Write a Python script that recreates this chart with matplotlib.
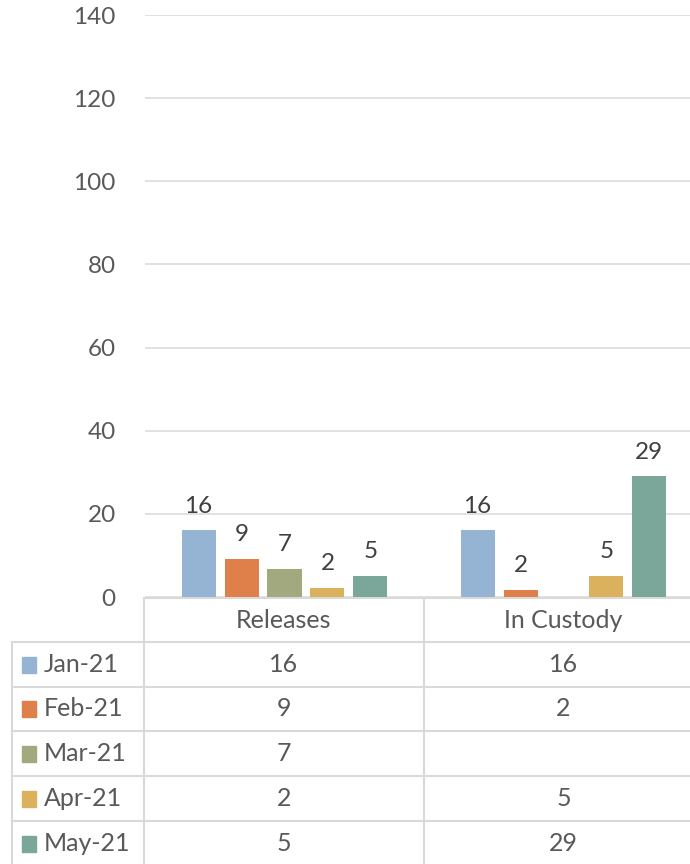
import numpy as np
import matplotlib.pyplot as plt

plt.rcParams['font.family'] = ['Lato', 'DejaVu Sans']

# data
categories = ['Releases', 'In Custody']
months = ['Jan-21', 'Feb-21', 'Mar-21', 'Apr-21', 'May-21']
releases = [16, 9.2, 6.7, 2.1, 5]
in_custody = [16, 1.7, np.nan, 5, 29]
colors = ['#95B3D3', '#DF7F49', '#A3A97F', '#DCB15D', '#7BA69A']
yticks = [0, 20, 40, 60, 80, 100, 120, 140]

W, H = 690, 864
fig = plt.figure(figsize=(W / 100, H / 100), dpi=100)

# plot area (right side is cropped by the figure edge)
left, right, top, bottom = 145, 703, 15, 597
ax = fig.add_axes([left / W, (H - bottom) / H, (right - left) / W, (bottom - top) / H])

x = np.arange(len(categories))
step, width = 0.154, 0.122
for i, m in enumerate(months):
    vals = np.array([releases[i], in_custody[i]], dtype=float)
    pos = x + (i - 2) * step
    ax.bar(pos, np.nan_to_num(vals), width, color=colors[i], zorder=3)
    for p, v in zip(pos, vals):
        if not np.isnan(v):
            ax.annotate(f'{v:.0f}', (p, v), xytext=(0, 10), textcoords='offset points',
                        ha='center', va='bottom', fontsize=17.5, color='#404040')

ax.set_xlim(-0.5, 1.5)
ax.set_ylim(0, 140)
ax.set_yticks(yticks)
ax.set_xticks([])
ax.grid(axis='y', color='#D9D9D9', lw=1.1, zorder=0)
ax.tick_params(axis='y', length=0, pad=21, labelsize=17.5, labelcolor='#595959')
for s in ax.spines.values():
    s.set_visible(False)

# data table drawn in pixel space
tab = fig.add_axes([0, 0, 1, 1], zorder=-1)
tab.set_xlim(0, W)
tab.set_ylim(H, 0)
tab.axis('off')
lc, lw = '#D9D9D9', 1.5
col_x = [12, 144, 424, 703]
header_top = 598
row_y = [642, 687, 731, 776, 821, 866]

# header row
tab.plot([col_x[1], col_x[3]], [header_top, header_top], color=lc, lw=lw)
for cx in col_x[1:3]:
    tab.plot([cx, cx], [header_top, row_y[-1]], color=lc, lw=lw)
tab.plot([col_x[0], col_x[0]], [row_y[0], row_y[-1]], color=lc, lw=lw)
for ry in row_y:
    tab.plot([col_x[0], col_x[3]], [ry, ry], color=lc, lw=lw)

centers = [(col_x[1] + col_x[2]) / 2, (col_x[2] + col_x[3]) / 2]
for c, cat in zip(centers, categories):
    tab.text(c, (header_top + row_y[0]) / 2, cat, ha='center', va='center',
             fontsize=18, color='#595959')

for i, m in enumerate(months):
    cy = (row_y[i] + row_y[i + 1]) / 2
    tab.add_patch(plt.Rectangle((22, cy - 8), 14, 16, color=colors[i]))
    tab.text(44, cy, m, ha='left', va='center', fontsize=18, color='#595959')
    for c, v in zip(centers, [releases[i], in_custody[i]]):
        if not np.isnan(v):
            tab.text(c, cy, f'{v:.0f}', ha='center', va='center', fontsize=18, color='#595959')

fig.savefig('out.png', dpi=100)
